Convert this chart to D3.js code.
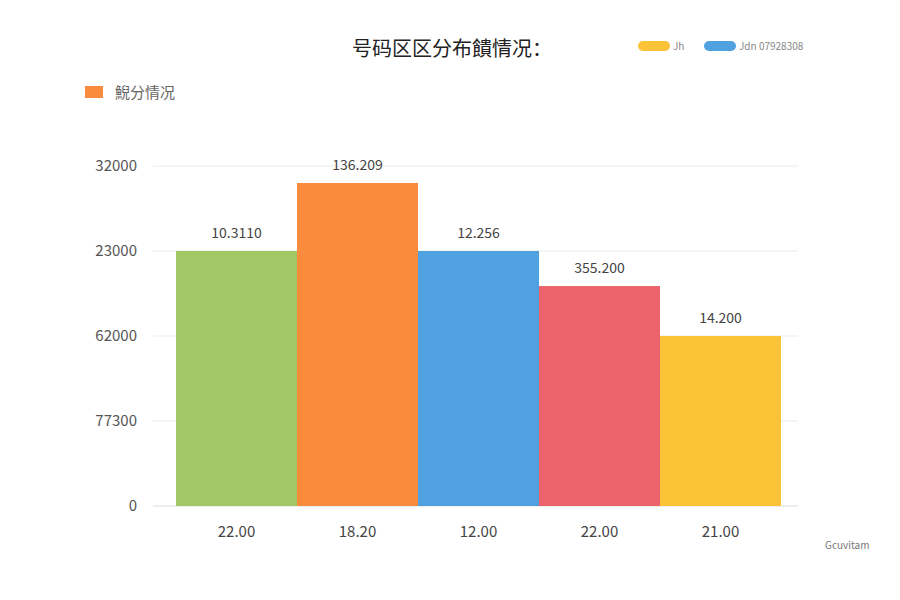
<!DOCTYPE html>
<html>
<head>
<meta charset="utf-8">
<script src="https://cdn.jsdelivr.net/npm/d3@7"></script>
<style>
  body { margin: 0; background: #fff; }
  text { font-family: "Noto Sans CJK SC", "Noto Sans", sans-serif; }
</style>
</head>
<body>
<div id="chart"></div>
<script>
// data
const categories = ["22.00", "18.20", "12.00", "22.00", "21.00"];
const values = [24000, 30400, 24000, 20700, 16000];
const valueLabels = ["10.3110", "136.209", "12.256", "355.200", "14.200"];
const barColors = ["#a2c865", "#f98b3d", "#4fa2df", "#ec636c", "#fbc338"];
const yTicks = [0, 8000, 16000, 24000, 32000];
const yTickLabels = ["0", "77300", "62000", "23000", "32000"];
const legendNames = ["Jh", "Jdn 07928308"];
const legendColors = ["#fbc338", "#4fa2df"];

const W = 900, H = 600;
const margin = {top: 166, right: 119, bottom: 94, left: 176};

const svg = d3.select("#chart").append("svg")
    .attr("width", W)
    .attr("height", H);

const x = d3.scaleBand()
    .domain(d3.range(categories.length))
    .range([margin.left, W - margin.right])
    .padding(0);

const y = d3.scaleLinear()
    .domain([0, 32000])
    .range([H - margin.bottom, margin.top]);

// gridlines
svg.append("g")
    .selectAll("line")
    .data(yTicks)
    .join("line")
    .attr("x1", 153)
    .attr("x2", 798)
    .attr("y1", d => y(d))
    .attr("y2", d => y(d))
    .attr("stroke", d => d === 0 ? "#dcdcdc" : "#ebebeb")
    .attr("stroke-width", 1);

// y axis labels
const yAxis = d3.axisLeft(y)
    .tickValues(yTicks)
    .tickSize(0)
    .tickPadding(0)
    .tickFormat((d, i) => yTickLabels[i]);

svg.append("g")
    .attr("transform", "translate(137,0)")
    .call(yAxis)
    .call(g => g.select(".domain").remove())
    .selectAll("text")
    .attr("font-size", 15)
    .attr("fill", "#555")
    .attr("font-family", "'Noto Sans', sans-serif");

// bars
svg.append("g")
    .selectAll("rect")
    .data(values)
    .join("rect")
    .attr("x", (d, i) => x(i))
    .attr("y", d => y(d))
    .attr("width", x.bandwidth())
    .attr("height", d => y(0) - y(d))
    .attr("fill", (d, i) => barColors[i]);

// value labels
svg.append("g")
    .selectAll("text")
    .data(values)
    .join("text")
    .attr("x", (d, i) => x(i) + x.bandwidth() / 2)
    .attr("y", d => y(d) - 13)
    .attr("text-anchor", "middle")
    .attr("font-size", 14)
    .attr("fill", "#444")
    .attr("font-family", "'Noto Sans', sans-serif")
    .text((d, i) => valueLabels[i]);

// x axis labels
const xAxis = d3.axisBottom(x)
    .tickSize(0)
    .tickPadding(0)
    .tickFormat(i => categories[i]);

svg.append("g")
    .attr("transform", `translate(0,${y(0) + 20})`)
    .call(xAxis)
    .call(g => g.select(".domain").remove())
    .selectAll("text")
    .attr("font-size", 15)
    .attr("fill", "#444")
    .attr("font-family", "'Noto Sans', sans-serif");

// title
svg.append("text")
    .attr("x", 352)
    .attr("y", 56)
    .attr("font-size", 20)
    .attr("font-weight", 400)
    .attr("fill", "#222")
    .text("号码区区分布饋情况：");

// top-right legend
const lg = svg.append("g").attr("transform", "translate(638,41)");
const lgX = [0, 66];
lg.selectAll("rect")
    .data(legendNames)
    .join("rect")
    .attr("x", (d, i) => lgX[i])
    .attr("y", 0)
    .attr("width", 32)
    .attr("height", 10)
    .attr("rx", 5)
    .attr("fill", (d, i) => legendColors[i]);
lg.selectAll("text")
    .data(legendNames)
    .join("text")
    .attr("x", (d, i) => lgX[i] + 35)
    .attr("y", 9)
    .attr("font-size", 10)
    .attr("fill", "#888")
    .attr("font-family", "'Noto Sans', sans-serif")
    .text(d => d);

// left legend
svg.append("rect")
    .attr("x", 85)
    .attr("y", 86)
    .attr("width", 18)
    .attr("height", 12)
    .attr("fill", "#f98b3d");
svg.append("text")
    .attr("x", 115)
    .attr("y", 98)
    .attr("font-size", 15)
    .attr("fill", "#666")
    .text("鯢分情况");

// bottom-right note
svg.append("text")
    .attr("x", 825)
    .attr("y", 549)
    .attr("font-size", 10)
    .attr("fill", "#777")
    .attr("font-family", "'Noto Sans', sans-serif")
    .text("Gcuvitam");
</script>
</body>
</html>
